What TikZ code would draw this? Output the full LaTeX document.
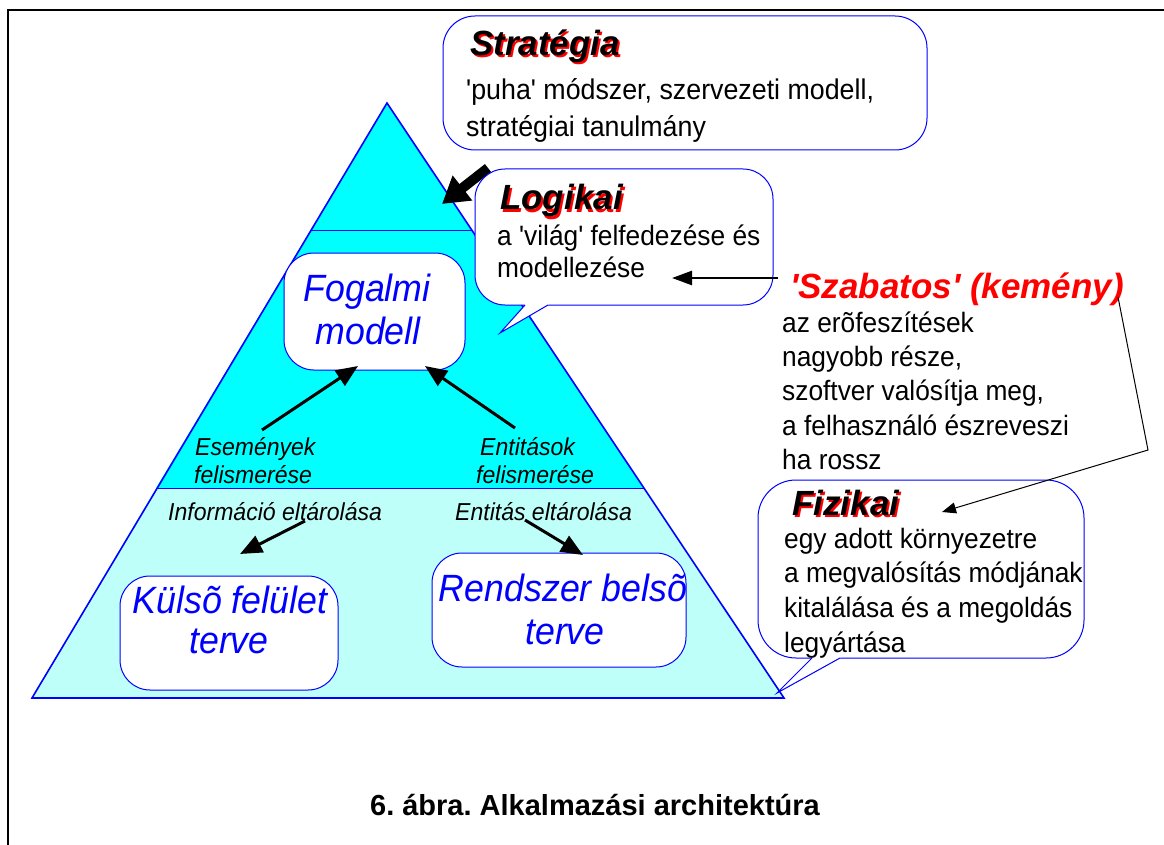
\documentclass[tikz,border=0pt]{standalone}
\usepackage{fontspec}
\setmainfont{Liberation Sans}[Ligatures=TeXOff]
\newfontfamily\narrowf{Liberation Sans}[FakeStretch=0.94, Ligatures=TeXOff]
\usetikzlibrary{arrows.meta}
\definecolor{pblue}{RGB}{0,0,255}
\definecolor{pcyan}{RGB}{0,255,255}
\definecolor{lcyan}{RGB}{191,255,250}
\definecolor{pred}{RGB}{255,0,0}
\frenchspacing
\begin{document}
\begin{tikzpicture}[x=1pt,y=-1pt,
  txt/.style={anchor=base west, inner sep=0pt, font=\narrowf\fontsize{28}{32}\selectfont},
  lbl/.style={anchor=base west, inner sep=0pt, font=\narrowf\fontsize{24.5}{28}\selectfont\itshape},
  ttl/.style={anchor=base west, inner sep=0pt, font=\fontsize{35}{40}\selectfont\bfseries\itshape},
  btxt/.style={anchor=base, inner sep=0pt, text=pblue, font=\narrowf\fontsize{38}{40}\selectfont\itshape},
  rbox/.style={draw=pblue, fill=white, line width=1pt, rounded corners=#1, inner sep=0pt},
  arr/.style={line width=3pt, -{Triangle[length=22pt,width=18pt]}},
  thinarr/.style={line width=1pt, -{Triangle[length=14pt,width=11pt]}},
  pyr/.style={draw=pblue, line width=1.6pt, line join=miter},
  div/.style={draw=pblue, line width=1pt}
]
\useasboundingbox (0,0) rectangle (1164,845);
% frame
\draw[line width=2pt] (8,845) -- (8,10) -- (1164,10);

% pyramid
\coordinate (apex) at (387,103);
\coordinate (bl) at (32,698);
\coordinate (br) at (784,698);
\coordinate (d1l) at (311,230);
\coordinate (d1r) at (472,230);
\coordinate (d2l) at (156,488);
\coordinate (d2r) at (644,488);
\fill[pcyan] (apex) -- (d2r) -- (d2l) -- cycle;
\fill[lcyan] (d2l) -- (d2r) -- (br) -- (bl) -- cycle;
\draw[div] (d1l) -- (d1r);
\draw[div] (d2l) -- (d2r);
\draw[pyr] (apex) -- (br) -- (bl) -- cycle;

% Fogalmi modell
\node[rbox=30pt, minimum width=181pt, minimum height=117pt] (fog) at (374.5,311.5) {};
\node[btxt] (fog1) at (367,301) {Fogalmi};
\node[btxt] (fog2) at (368,344) {modell};

% Kulso / Rendszer boxes
\node[rbox=30pt, minimum width=218pt, minimum height=114pt] (kul) at (229,633) {};
\node[btxt] (kul1) at (230,613) {Külsõ felület};
\node[btxt] (kul2) at (229,653) {terve};
\node[rbox=30pt, minimum width=254pt, minimum height=114pt] (ren) at (559,610) {};
\node[btxt] (ren1) at (563,601) {Rendszer belsõ};
\node[btxt] (ren2) at (565,644) {terve};

% labels in pyramid
\node[lbl] (es1) at (195,455) {Események};
\node[lbl] (es2) at (194,483) {felismerése};
\node[lbl] (en1) at (480,455) {Entitások};
\node[lbl] (en2) at (476,483) {felismerése};
\node[lbl] (inf) at (168,520) {Információ eltárolása};
\node[lbl] (ent) at (455,520) {Entitás eltárolása};

% arrows in pyramid
\coordinate (a1s) at (262,430); \coordinate (a1e) at (358,366);
\coordinate (a2s) at (515,428); \coordinate (a2e) at (425,366);
\coordinate (a3s) at (305,521); \coordinate (a3e) at (240,554);
\coordinate (a4s) at (525,520); \coordinate (a4e) at (583,555);
\draw[arr] (a1s) -- (a1e);
\draw[arr] (a2s) -- (a2e);
\draw[arr] (a3s) -- (a3e);
\draw[arr] (a4s) -- (a4e);

% Strategia callout
\node[rbox=32pt, minimum width=484pt, minimum height=134pt] (str) at (685,83) {};
\node[ttl, text=pred] (strs) at (472,58) {Stratégia};
\node[ttl] (strt) at (470,56) {Stratégia};
\node[txt, font=\narrowf\fontsize{28.5}{32}\selectfont] (str1) at (466,100) {'puha' módszer, szervezeti modell,};
\node[txt, font=\narrowf\fontsize{28.5}{32}\selectfont] (str2) at (466,137) {stratégiai tanulmány};
\coordinate (bas) at (488,168); \coordinate (bae) at (442,204);
\draw[line width=10pt, -{Triangle[length=26pt,width=30pt]}] (bas) -- (bae);

% Logikai callout
\node[rbox=30pt, minimum width=298pt, minimum height=136pt] (log) at (624,237) {};
\fill[white] (523,302) -- (550,302) -- (548,305) -- (500,333) -- (525,305) -- cycle;
\draw[draw=pblue, line width=1pt] (525,305) -- (500,333) -- (548,305);
\node[ttl, text=pred] (logs) at (502,212) {Logikai};
\node[ttl] (logt) at (500,210) {Logikai};
\node[txt] (log1) at (497,245) {a 'világ' felfedezése és};
\node[txt] (log2) at (497,277) {modellezése};

% Szabatos
\node[ttl, text=pred] (sza) at (790,298) {'Szabatos' (kemény)};
\coordinate (s1) at (778,278); \coordinate (s2) at (672,278);
\draw[line width=2.5pt, -{Triangle[length=20pt,width=14pt]}] (s1) -- (s2);
\node[txt] (sz1) at (782,332) {az erõfeszítések};
\node[txt] (sz2) at (782,366) {nagyobb része,};
\node[txt] (sz3) at (782,400) {szoftver valósítja meg,};
\node[txt] (sz4) at (782,435) {a felhasználó észreveszi};
\node[txt] (sz5) at (782,469) {ha rossz};

% Fizikai callout
\node[rbox=38pt, minimum width=326pt, minimum height=178pt] (fiz) at (921,569) {};
\fill[white] (810,655) -- (842,655) -- (840,658) -- (777,693) -- (812,658) -- cycle;
\draw[draw=pblue, line width=1pt] (812,658) -- (777,693) -- (840,658);
\node[ttl, text=pred] (fizs) at (794,517) {Fizikai};
\node[ttl] (fizt) at (792,515) {Fizikai};
\node[txt] (fz1) at (784,548) {egy adott környezetre};
\node[txt] (fz2) at (784,582) {a megvalósítás módjának};
\node[txt] (fz3) at (784,617) {kitalálása és a megoldás};
\node[txt] (fz4) at (784,652) {legyártása};

% arrow from Szabatos to Fizikai
\coordinate (f1) at (1118,297); \coordinate (f2) at (1148,450); \coordinate (f3) at (942,512);
\draw[thinarr] (f1) -- (f2) -- (f3);

% caption
\node[anchor=base, inner sep=0pt, font=\fontsize{29}{34}\selectfont\bfseries] (cap) at (595,815) {6. ábra. Alkalmazási architektúra};
\end{tikzpicture}
\end{document}
